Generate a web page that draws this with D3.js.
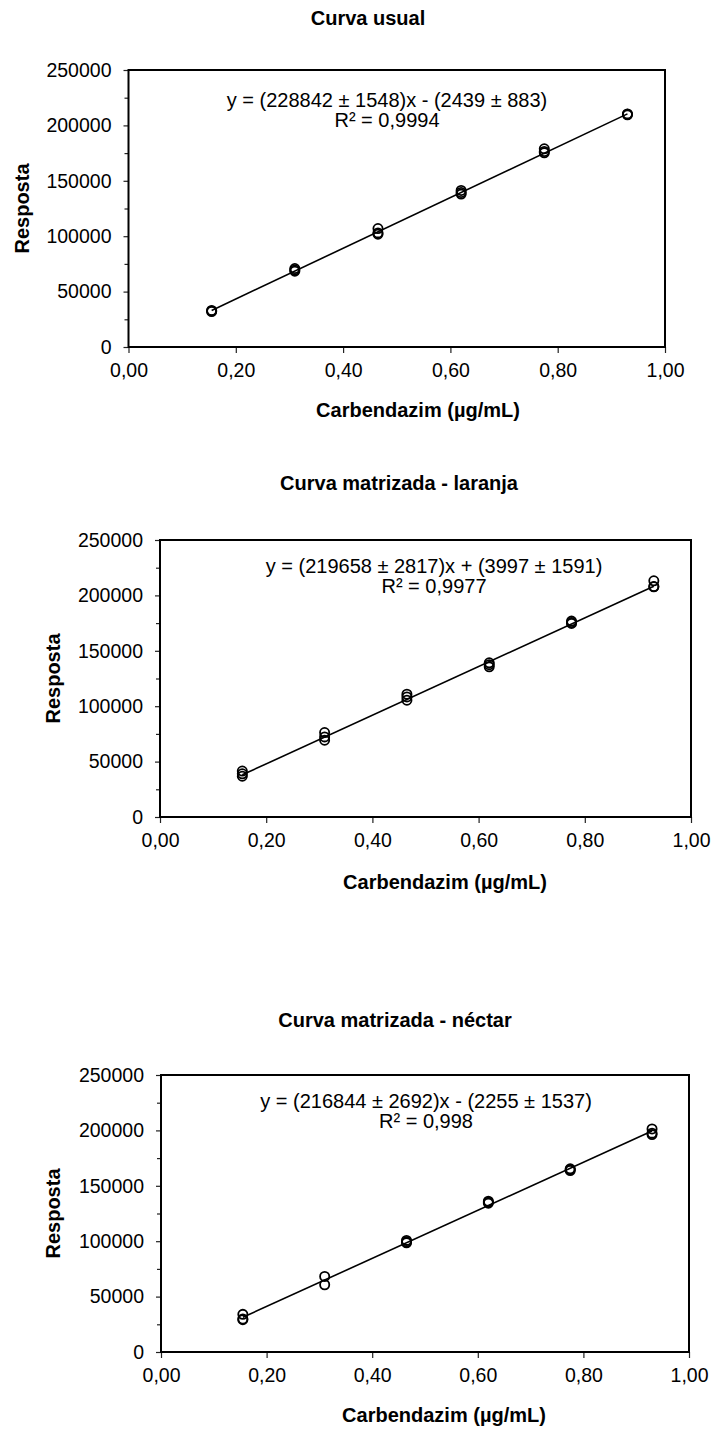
<!DOCTYPE html>
<html>
<head>
<meta charset="utf-8">
<script src="https://cdn.jsdelivr.net/npm/d3@7"></script>
<style>
  body { margin: 0; background: #fff; }
  svg { display: block; font-family: "Liberation Sans", Arial, sans-serif; }
</style>
</head>
<body>
<div id="chart"></div>
<script>
// concentrations (µg/mL) and replicate responses per level
const conc = [0.155, 0.31, 0.465, 0.62, 0.775, 0.93];

const usualResp = [
  [32000, 32600, 33000],
  [68400, 69500, 70800],
  [101800, 103000, 106900],
  [138000, 139500, 141300],
  [175300, 176500, 178900],
  [209500, 210000, 210400]
];
const laranjaResp = [
  [41500, 39000, 36800],
  [76200, 72300, 69300],
  [110800, 108400, 105400],
  [139200, 137500, 135500],
  [176800, 175500, 174700],
  [213200, 208000, 207800]
];
const nectarResp = [
  [34000, 29200, 29800],
  [68200, 60700],
  [100700, 98600, 99500],
  [136100, 134300, 135200],
  [165300, 163800, 164500],
  [201300, 196200, 197500]
];

// trend line ends (read at first and last level)
const trendX = [0.155, 0.93];
const usualTrend = [33030, 210380];
const laranjaTrend = [38040, 208280];
const nectarTrend = [31360, 199410];

const titles = ['Curva usual', 'Curva matrizada - laranja', 'Curva matrizada - néctar'];
const equations = [
  'y = (228842 ± 1548)x - (2439 ± 883)',
  'y = (219658 ± 2817)x + (3997 ± 1591)',
  'y = (216844 ± 2692)x - (2255 ± 1537)'
];
const r2Labels = ['R² = 0,9994', 'R² = 0,9977', 'R² = 0,998'];

const xTicks = [0, 0.2, 0.4, 0.6, 0.8, 1.0];
const yTicks = [0, 50000, 100000, 150000, 200000, 250000];
const yMinorTicks = [25000, 75000, 125000, 175000, 225000];
const xTitle = 'Carbendazim (µg/mL)';
const yTitle = 'Resposta';

// layout of each panel (pixels)
const panels = [
  { resp: usualResp, trend: usualTrend, box: [128.5, 665, 70, 347],
    titleX: 368, titleY: 25, eqX: 387, eqY: 107, xTitleX: 418, xTitleY: 417, yTitleX: 29 },
  { resp: laranjaResp, trend: laranjaTrend, box: [160, 691, 540, 817],
    titleX: 399, titleY: 490, eqX: 434, eqY: 573, xTitleX: 445, xTitleY: 889, yTitleX: 60 },
  { resp: nectarResp, trend: nectarTrend, box: [161, 689, 1075, 1352],
    titleX: 395, titleY: 1027, eqX: 426, eqY: 1108, xTitleX: 444, xTitleY: 1422, yTitleX: 60 }
];

const width = 714, height = 1429;
const locale = d3.formatLocale({ decimal: ',', thousands: '.', grouping: [3], currency: ['', ''] });
const fmtX = locale.format('.2f');
const fmtY = d3.format('d');

const svg = d3.select('#chart').append('svg')
  .attr('width', width).attr('height', height);

panels.forEach((p, k) => {
  const [x0, x1, y0, y1] = p.box;

  const xScale = d3.scaleLinear().domain([0, 1]).range([x0, x1]);
  const yScale = d3.scaleLinear().domain([0, 250000]).range([y1, y0]);

  const g = svg.append('g');

  // title
  g.append('text')
    .text(titles[k])
    .attr('x', p.titleX).attr('y', p.titleY)
    .attr('text-anchor', 'middle')
    .style('font-size', '20px').style('font-weight', 'bold');

  // axes
  const xAxis = d3.axisBottom(xScale)
    .tickValues(xTicks).tickFormat(fmtX)
    .tickSize(6).tickPadding(10);

  const yAxis = d3.axisLeft(yScale)
    .tickValues(yTicks).tickFormat(fmtY)
    .tickSize(5).tickPadding(12);

  const yMinor = d3.axisLeft(yScale)
    .tickValues(yMinorTicks).tickFormat('')
    .tickSize(4);

  const gx = g.append('g')
    .attr('transform', `translate(0, ${y1})`)
    .call(xAxis);
  gx.select('.domain').remove();

  const gy = g.append('g')
    .attr('transform', `translate(${x0}, 0)`)
    .call(yAxis);
  gy.select('.domain').remove();

  g.append('g')
    .attr('transform', `translate(${x0}, 0)`)
    .call(yMinor)
    .select('.domain').remove();

  g.selectAll('.tick line').attr('stroke', '#222').attr('stroke-width', 1.2);
  g.selectAll('.tick text')
    .attr('fill', '#000')
    .style('font-family', '"Liberation Sans", Arial, sans-serif')
    .style('font-size', '19.5px');

  // plot frame
  g.append('rect')
    .attr('x', x0).attr('y', y0)
    .attr('width', x1 - x0).attr('height', y1 - y0)
    .attr('fill', 'none')
    .attr('stroke', '#000').attr('stroke-width', 2);

  // axis titles
  g.append('text')
    .text(xTitle)
    .attr('x', p.xTitleX).attr('y', p.xTitleY)
    .attr('text-anchor', 'middle')
    .style('font-size', '20px').style('font-weight', 'bold');

  g.append('text')
    .text(yTitle)
    .attr('transform', `translate(${p.yTitleX}, ${(y0 + y1) / 2}) rotate(-90)`)
    .attr('text-anchor', 'middle')
    .style('font-size', '20px').style('font-weight', 'bold');

  // trend line
  const lineGen = d3.line()
    .x((d, i) => xScale(trendX[i]))
    .y(d => yScale(d));

  g.append('path')
    .attr('d', lineGen(p.trend))
    .attr('fill', 'none')
    .attr('stroke', '#000')
    .attr('stroke-width', 1.6);

  // replicate points
  const pts = [];
  p.resp.forEach((vals, i) => vals.forEach(v => pts.push({ c: conc[i], v })));

  g.selectAll('circle.pt')
    .data(pts)
    .enter().append('circle')
    .attr('class', 'pt')
    .attr('cx', d => xScale(d.c))
    .attr('cy', d => yScale(d.v))
    .attr('r', 4.6)
    .attr('fill', 'none')
    .attr('stroke', '#000')
    .attr('stroke-width', 1.8);

  // equation + R²
  g.append('text')
    .text(equations[k])
    .attr('x', p.eqX).attr('y', p.eqY)
    .attr('text-anchor', 'middle')
    .style('font-size', '20px');

  g.append('text')
    .text(r2Labels[k])
    .attr('x', p.eqX).attr('y', p.eqY + 20)
    .attr('text-anchor', 'middle')
    .style('font-size', '20px');
});
</script>
</body>
</html>
